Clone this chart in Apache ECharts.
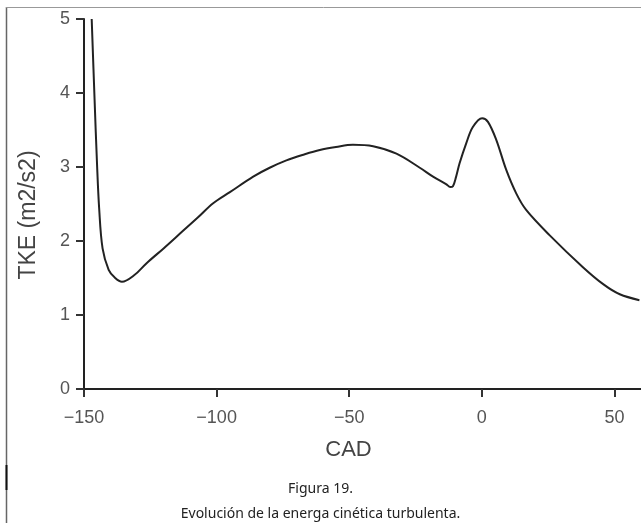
<!DOCTYPE html>
<html>
<head>
<meta charset="utf-8">
<script src="https://cdn.jsdelivr.net/npm/echarts@6/dist/echarts.min.js"></script>
<style>
html,body{margin:0;padding:0;background:#fff;}
#chart{width:641px;height:523px;}
</style>
</head>
<body>
<div id="chart"></div>
<script>
// Data
var cadValues = [-147.1, -146.0, -145.1, -144.3, -143.0, -140.7, -138.5, -135.7, -131.0, -126.4, -120.0, -113.8, -107.0, -101.3, -95.0, -86.2, -80.0, -73.7, -67.0, -61.1, -55.0, -48.6, -41.0, -32.2, -23.4, -18.4, -13.5, -11.9, -10.9, -9.7, -8.4, -5.9, -3.4, 0.1, 2.3, 5.4, 9.2, 13.0, 16.7, 25.5, 38.0, 46.0, 52.0, 59.4];
var tkeValues = [5.0, 3.9, 3.05, 2.45, 1.9, 1.61, 1.51, 1.45, 1.54, 1.70, 1.90, 2.10, 2.32, 2.51, 2.66, 2.87, 2.99, 3.09, 3.17, 3.23, 3.27, 3.30, 3.28, 3.18, 2.99, 2.87, 2.77, 2.73, 2.74, 2.87, 3.05, 3.32, 3.54, 3.66, 3.61, 3.37, 2.96, 2.64, 2.42, 2.08, 1.65, 1.41, 1.28, 1.20];
var xTicks = [-150, -100, -50, 0, 50];
var yTicks = [0, 1, 2, 3, 4, 5];
var xName = 'CAD';
var yName = 'TKE (m2/s2)';
var captionTitle = 'Figura 19.';
var captionText = 'Evolución de la energa cinética turbulenta.';

var points = cadValues.map(function (x, i) { return [x, tkeValues[i]]; });

var chart = echarts.init(document.getElementById('chart'), null, {renderer: 'canvas'});
chart.setOption({
  backgroundColor: '#ffffff',
  animation: false,
  grid: {left: 84, right: 0, top: 19, bottom: 134, containLabel: false},
  xAxis: {
    type: 'value', min: -150, max: 60, interval: 50,
    name: xName, nameLocation: 'middle', nameGap: 50,
    nameTextStyle: {fontFamily: 'Liberation Sans', fontSize: 22, color: '#444', padding: [0, 28, 0, 0]},
    axisLine: {show: true, onZero: false, lineStyle: {color: '#222', width: 2}},
    axisTick: {show: true, length: 8, inside: false, lineStyle: {color: '#333', width: 2}, customValues: xTicks},
    axisLabel: {show: true, margin: 20, fontFamily: 'Liberation Sans', fontSize: 18, color: '#555', customValues: xTicks,
      formatter: function (v) { return String(v).replace('-', '\u2212'); }},
    splitLine: {show: false}
  },
  yAxis: {
    type: 'value', min: 0, max: 5, interval: 1,
    name: yName, nameLocation: 'middle', nameGap: 44,
    nameTextStyle: {fontFamily: 'Liberation Sans', fontSize: 23, color: '#444', padding: [0, 22, 0, 0]},
    axisLine: {show: true, onZero: false, lineStyle: {color: '#222', width: 2}},
    axisTick: {show: true, length: 8, inside: false, lineStyle: {color: '#333', width: 2}, customValues: yTicks},
    axisLabel: {show: true, margin: 14, fontFamily: 'Liberation Sans', fontSize: 18, color: '#555', customValues: yTicks},
    splitLine: {show: false}
  },
  series: [{
    type: 'line', data: points, smooth: 0.35, showSymbol: false, clip: true,
    lineStyle: {color: '#222', width: 2}
  }],
  graphic: [
    {type: 'line', shape: {x1: 6.5, y1: 7, x2: 6.5, y2: 523}, style: {stroke: '#666', lineWidth: 1.5}},
    {type: 'line', shape: {x1: 6.5, y1: 465, x2: 6.5, y2: 490}, style: {stroke: '#111', lineWidth: 2}},
    {type: 'line', shape: {x1: 6, y1: 7.5, x2: 641, y2: 7.5}, style: {stroke: '#999', lineWidth: 1}},
    {type: 'text', left: 'center', top: 482, style: {text: captionTitle, font: '14px "Noto Sans"', fill: '#222'}},
    {type: 'text', left: 'center', top: 507, style: {text: captionText, font: '14px "Noto Sans"', fill: '#222'}}
  ]
});
</script>
</body>
</html>
